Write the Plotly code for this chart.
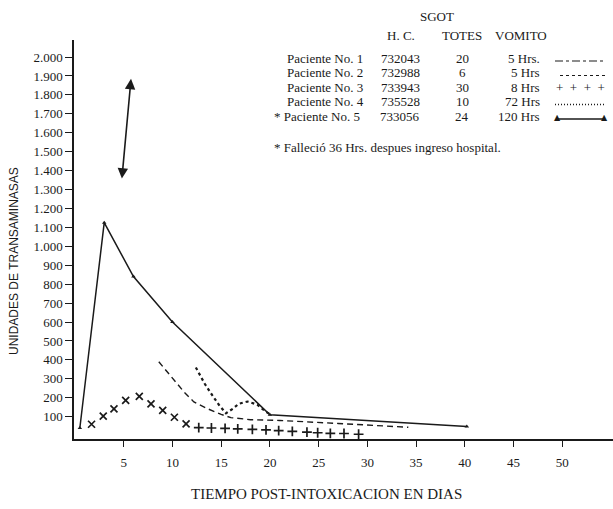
import plotly.graph_objects as go

# ---------------- data ----------------
days_p1 = [8.6, 9.5, 10.4, 11.2, 12.2, 13.6, 15.0, 16.0, 18.0, 21.0, 27.0, 34.2]
sgot_p1 = [390, 335, 285, 230, 178, 142, 112, 95, 84, 80, 64, 44]

days_p3 = [1.7, 2.9, 4.0, 5.2, 6.6, 7.8, 9.0, 10.2, 11.4,
           12.7, 14.0, 15.4, 16.7, 18.2, 19.6, 20.9, 22.3, 23.8, 24.9, 26.2, 27.6, 29.1]
sgot_p3 = [60, 103, 141, 186, 207, 168, 133, 97, 62,
           42, 40, 38, 36, 33, 30, 26, 22, 18, 15, 12, 11, 7]

days_p4 = [12.4, 13.3, 14.1, 14.8, 15.5, 16.2, 16.8, 17.7, 18.7, 19.6, 20.1]
sgot_p4 = [360, 275, 212, 160, 118, 142, 168, 180, 164, 125, 112]

days_p5 = [0.5, 3.0, 6.0, 10.0, 20.0, 40.2]
sgot_p5 = [40, 1125, 840, 600, 110, 48]

arrow_days = [4.8, 5.75]
arrow_sgot = [1350, 1885]

y_tickvals = [100, 200, 300, 400, 500, 600, 700, 800, 900, 1000,
              1100, 1200, 1300, 1400, 1500, 1600, 1700, 1800, 1900, 2000]
y_ticktext = ["100", "200", "300", "400", "500", "600", "700", "800", "900", "1.000",
              "1.100", "1.200", "1.300", "1.400", "1.500", "1.600", "1.700", "1.800", "1.900", "2.000"]
x_tickvals = [5, 10, 15, 20, 25, 30, 35, 40, 45, 50]

patients = ["Paciente No. 1", "Paciente No. 2", "Paciente No. 3", "Paciente No. 4", "* Paciente No. 5"]
hc = ["732043", "732988", "733943", "735528", "733056"]
totes = ["20", "6", "30", "10", "24"]
vomito = ["5 Hrs.", "5 Hrs", "8 Hrs", "72 Hrs", "120 Hrs"]

# ---------------- figure ----------------
INK = "#1a1a1a"
SERIF = "Liberation Serif"
W, H = 613, 509
ML, MR, MT, MB = 74, 0, 40, 70


def px(x):
    return (x - ML) / (W - ML - MR)


def py(y):
    return (H - MB - y) / (H - MT - MB)


def label(xp, yp, text, xanchor="center", font=None, **kw):
    fig.add_annotation(x=px(xp), y=py(yp), xref="paper", yref="paper", text=text,
                       xanchor=xanchor, yanchor="middle", showarrow=False,
                       font=font or dict(family=SERIF, size=13, color=INK), **kw)


fig = go.Figure()

fig.add_trace(go.Scatter(x=days_p5, y=sgot_p5, mode="lines+markers",
                         line=dict(color=INK, width=1.5),
                         marker=dict(symbol="triangle-up", size=4, color=INK),
                         name="Paciente No. 5", showlegend=False))
fig.add_trace(go.Scatter(x=days_p1, y=sgot_p1, mode="lines",
                         line=dict(color=INK, width=1.4, dash="6px,4px"),
                         name="Paciente No. 1", showlegend=False))
fig.add_trace(go.Scatter(x=days_p4, y=sgot_p4, mode="lines",
                         line=dict(color=INK, width=2.2, dash="dot"),
                         name="Paciente No. 4", showlegend=False))
sym3 = ["x-thin" if d < 12 else "cross-thin" for d in days_p3]
fig.add_trace(go.Scatter(x=days_p3, y=sgot_p3, mode="markers",
                         marker=dict(symbol=sym3, size=7, color=INK,
                                     line=dict(color=INK, width=1.7)),
                         name="Paciente No. 3", showlegend=False))

# double headed arrow
fig.add_annotation(x=arrow_days[1], y=arrow_sgot[1], ax=arrow_days[0], ay=arrow_sgot[0],
                   xref="x", yref="y", axref="x", ayref="y", text="",
                   showarrow=True, arrowhead=2, startarrowhead=2, arrowside="end+start",
                   arrowsize=1.3, startarrowsize=1.3, arrowwidth=1.6, arrowcolor=INK)

# ---- legend table ----
label(437, 16, "SGOT")
for txt, xc in [("H. C.", 401), ("TOTES", 462), ("VOMITO", 521)]:
    label(xc, 35, txt)

row_y = [58, 72.5, 87, 101.5, 116]
for i in range(5):
    label(285 if i < 4 else 272, row_y[i], patients[i], xanchor="left")
    label(400, row_y[i], hc[i])
    label(462, row_y[i], totes[i])
    label(542, row_y[i], vomito[i], xanchor="right")


def sample_line(yrow, dash, width=1.2, x0=555, x1=605):
    fig.add_shape(type="line", xref="paper", yref="paper",
                  x0=px(x0), x1=px(x1), y0=py(yrow + 3), y1=py(yrow + 3),
                  line=dict(color=INK, width=width, dash=dash))


sample_line(row_y[0], "8px,3px,3px,3px")
sample_line(row_y[1], "3px,3px", x0=560)
label(580, row_y[2], "+  +  +  +")
sample_line(row_y[3], "1px,2px", width=1.5)
sample_line(row_y[4], "solid", width=1.3, x0=558, x1=603)
for xt in (557, 604):
    label(xt, row_y[4] + 1.5, "▲", font=dict(family="DejaVu Sans", size=8, color=INK))

label(272, 147, "* Falleció 36 Hrs. despues ingreso hospital.", xanchor="left")

# axis titles
label(326, 494, "TIEMPO POST-INTOXICACION EN DIAS",
      font=dict(family=SERIF, size=15, color=INK))
label(14, 261, "UNIDADES DE TRANSAMINASAS", textangle=-90,
      font=dict(family="Liberation Sans", size=12, color=INK))

fig.update_xaxes(range=[-0.1, 55.2], tickvals=x_tickvals, ticks="outside", ticklen=6,
                 tickwidth=1.3, tickcolor=INK, showline=True, linecolor=INK, linewidth=1.5,
                 showgrid=False, zeroline=False, ticklabelstandoff=5,
                 tickfont=dict(family=SERIF, size=13, color=INK))
fig.update_yaxes(range=[-18, 2090], tickvals=y_tickvals, ticktext=y_ticktext,
                 ticks="outside", ticklen=7, tickwidth=1.3, tickcolor=INK,
                 showline=True, linecolor=INK, linewidth=1.5, showgrid=False,
                 zeroline=False, tickfont=dict(family=SERIF, size=13, color=INK))

fig.update_layout(width=W, height=H, autosize=False,
                  margin=dict(l=ML, r=MR, t=MT, b=MB, pad=0),
                  paper_bgcolor="white", plot_bgcolor="white", showlegend=False)

fig.write_html("out.html", config={"displayModeBar": False},
               post_script="document.body.style.margin='0';")
